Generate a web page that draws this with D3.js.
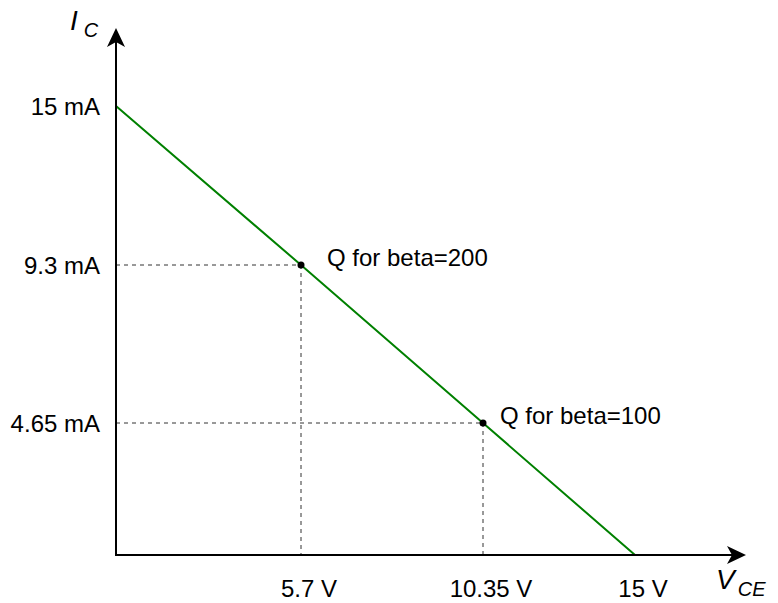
<!DOCTYPE html>
<html>
<head>
<meta charset="utf-8">
<script src="https://cdn.jsdelivr.net/npm/d3@7"></script>
<style>
  html, body { margin: 0; padding: 0; background: #fff; }
  svg { display: block; }
  text { font-family: "Liberation Sans", Arial, Helvetica, sans-serif; fill: #000; }
</style>
</head>
<body>
<svg id="chart" width="778" height="603"></svg>
<script>
// Load line of the transistor stage: I_C = (15 V - V_CE) / 1 kΩ
const vceTicks = [5.7, 10.35, 15];            // volts
const vceTickLabels = ["5.7 V", "10.35 V", "15 V"];
const icTicks = [4.65, 9.3, 15];              // milliamps
const icTickLabels = ["4.65 mA", "9.3 mA", "15 mA"];

// End points of the load line
const loadLineVce = [0, 15];
const loadLineIc = [15, 0];

// Operating points
const qVce = [5.7, 10.35];
const qIc = [9.3, 4.65];
const qLabels = ["Q for beta=200", "Q for beta=100"];

const svg = d3.select("#chart");

// Sketch-style axes: the marked values are spaced by hand, not to scale
const x = d3.scaleLinear().domain([0, 5.7, 10.35, 15]).range([116, 301, 483, 635]);
const y = d3.scaleLinear().domain([0, 4.65, 9.3, 15]).range([555, 423, 265, 106]);

const x0 = x(0), y0 = y(0);
const xEnd = 746, yEnd = 28;

// Dashed guides from each Q point to the axes
const qPts = qVce.map((v, i) => ({ v, i: qIc[i], label: qLabels[i] }));
const guides = svg.append("g").attr("stroke", "#333").attr("stroke-width", 1)
  .attr("stroke-dasharray", "4,4").attr("fill", "none");
qPts.forEach(p => {
  guides.append("line").attr("x1", x0).attr("x2", x(p.v)).attr("y1", y(p.i)).attr("y2", y(p.i));
  guides.append("line").attr("x1", x(p.v)).attr("x2", x(p.v)).attr("y1", y(p.i)).attr("y2", y0);
});

// Load line through the operating points
const linePts = [
  [loadLineVce[0], loadLineIc[0]],
  ...qPts.map(p => [p.v, p.i]),
  [loadLineVce[1], loadLineIc[1]]
];
svg.append("path")
  .datum(linePts)
  .attr("fill", "none")
  .attr("stroke", "#008000")
  .attr("stroke-width", 2)
  .attr("d", d3.line().x(d => x(d[0])).y(d => y(d[1])));

// Axes with arrowheads
const axes = svg.append("g");
axes.append("line").attr("x1", x0).attr("x2", x0).attr("y1", y0 + 1).attr("y2", yEnd + 12)
  .attr("stroke", "#000").attr("stroke-width", 2);
axes.append("line").attr("x1", x0 - 1).attr("x2", xEnd - 12).attr("y1", y0).attr("y2", y0)
  .attr("stroke", "#000").attr("stroke-width", 2);
axes.append("path")
  .attr("d", `M${xEnd},${y0} L${xEnd - 19},${y0 - 9} L${xEnd - 14},${y0} L${xEnd - 19},${y0 + 9} Z`)
  .attr("fill", "#000");
axes.append("path")
  .attr("d", `M${x0},${yEnd} L${x0 - 9},${yEnd + 19} L${x0},${yEnd + 14} L${x0 + 9},${yEnd + 19} Z`)
  .attr("fill", "#000");

// Tick labels
const fs = 24;
svg.append("g").selectAll("text").data(icTicks).join("text")
  .attr("x", 100).attr("y", d => y(d)).attr("dy", "0.38em")
  .attr("text-anchor", "end").attr("font-size", fs)
  .text((d, i) => icTickLabels[i]);
svg.append("g").selectAll("text").data(vceTicks).join("text")
  .attr("x", d => x(d) + 8).attr("y", 597)
  .attr("text-anchor", "middle").attr("font-size", fs)
  .text((d, i) => vceTickLabels[i]);

// Q points and their labels
const qLabelDx = [26, 17];
svg.append("g").selectAll("circle").data(qPts).join("circle")
  .attr("cx", d => x(d.v)).attr("cy", d => y(d.i)).attr("r", 3.5).attr("fill", "#000");
svg.append("g").selectAll("text").data(qPts).join("text")
  .attr("x", (d, k) => x(d.v) + qLabelDx[k]).attr("y", d => y(d.i) + 1)
  .attr("font-size", fs)
  .text(d => d.label);

// Axis titles
const yt = svg.append("text").attr("x", 70).attr("y", 30).attr("font-size", 28).attr("font-style", "italic");
yt.append("tspan").text("I");
yt.append("tspan").attr("dx", 6).attr("dy", 7).attr("font-size", 20).text("C");
const xt = svg.append("text").attr("x", 716).attr("y", 589).attr("font-size", 28).attr("font-style", "italic");
xt.append("tspan").text("V");
xt.append("tspan").attr("dx", 3).attr("dy", 7).attr("font-size", 20).text("CE");
</script>
</body>
</html>
